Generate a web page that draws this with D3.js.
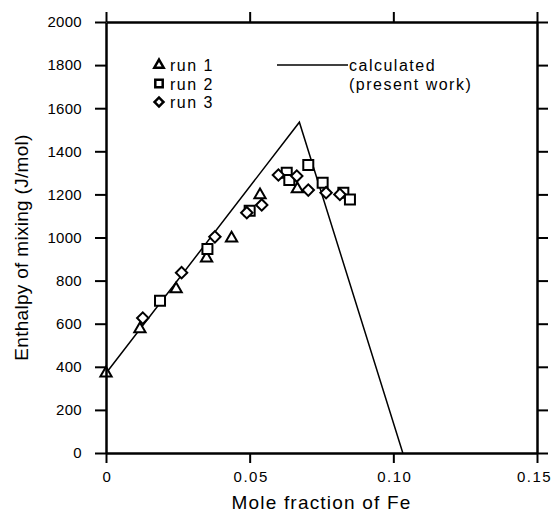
<!DOCTYPE html>
<html><head><meta charset="utf-8">
<script src="https://cdn.jsdelivr.net/npm/d3@7"></script>
<style>body{margin:0;background:#fff}svg{display:block}text{font-family:"Liberation Sans",Arial,sans-serif;fill:#000}</style>
</head><body><svg id="c" width="554" height="513"></svg>
<script>
const xTicks = [0, 0.05, 0.10, 0.15];
const xTickLabels = ["0", "0.05", "0.10", "0.15"];
const yTicks = [0, 200, 400, 600, 800, 1000, 1200, 1400, 1600, 1800, 2000];
const calcX = [0, 0.0673, 0.1033];
const calcY = [370, 1535, 0];
const run1X = [0, 0.0118, 0.0244, 0.0350, 0.0437, 0.0536, 0.0666];
const run1Y = [370, 575, 761, 904, 996, 1197, 1225];
const run2X = [0.0188, 0.0353, 0.0500, 0.0629, 0.0638, 0.0704, 0.0754, 0.0826, 0.0849];
const run2Y = [707, 947, 1124, 1301, 1267, 1336, 1254, 1208, 1176];
const run3X = [0.0128, 0.0263, 0.0379, 0.0490, 0.0542, 0.0600, 0.0664, 0.0704, 0.0766, 0.0814];
const run3Y = [626, 837, 1003, 1115, 1151, 1290, 1285, 1220, 1208, 1200];
const legendRuns = ["run 1", "run 2", "run 3"];
const legendCalc = ["calculated", "(present work)"];

const svg = d3.select("#c");
const L = 106, T = 22, W = 431, H = 431;
const x = d3.scaleLinear().domain([0, 0.15]).range([L, L + W]);
const y = d3.scaleLinear().domain([0, 2000]).range([T + H, T]);

// calculated line
const calc = calcX.map((d, i) => [d, calcY[i]]);
svg.append("path").datum(calc)
  .attr("d", d3.line().x(d => x(d[0])).y(d => y(d[1])))
  .attr("fill", "none").attr("stroke", "#000").attr("stroke-width", 1.5);

const sym = {
  tri: d3.symbol().type(d3.symbolTriangle).size(55),
  sq: d3.symbol().type(d3.symbolSquare).size(100),
  dia: d3.symbol().type(d3.symbolSquare).size(65)
};
function pts(xs, ys, s, rot) {
  const data = xs.map((d, i) => [d, ys[i]]);
  svg.append("g").selectAll("path").data(data).join("path")
    .attr("d", sym[s]())
    .attr("transform", d => `translate(${x(d[0])},${y(d[1])}) rotate(${rot})`)
    .attr("fill", "#fff").attr("stroke", "#000").attr("stroke-width", 2);
}
pts(run1X, run1Y, "tri", 0);
pts(run2X, run2Y, "sq", 0);
pts(run3X, run3Y, "dia", 45);

const g = svg.append("g");
function styleAxis(a, ls) {
  a.select(".domain").attr("stroke-width", 2.5).attr("stroke", "#000");
  a.selectAll(".tick line").attr("stroke-width", 2).attr("stroke", "#000");
  a.selectAll("text").style("font-size", "15px").style("letter-spacing", ls + "px").attr("fill", "#000");
}
const bx = g.append("g").attr("transform", `translate(0,${T + H})`)
  .call(d3.axisBottom(x).tickValues(xTicks).tickFormat((d, i) => xTickLabels[i]).tickSize(10).tickSizeOuter(0).tickPadding(8));
styleAxis(bx, 1.5);
bx.selectAll("text").attr("dx", (d, i) => i === xTicks.length - 1 ? "-3px" : "1px");
const tx = g.append("g").attr("transform", `translate(0,${T})`)
  .call(d3.axisTop(x).tickValues(xTicks).tickFormat("").tickSize(10).tickSizeOuter(0));
styleAxis(tx, 0);
const ly = g.append("g").attr("transform", `translate(${L},0)`)
  .call(d3.axisLeft(y).tickValues(yTicks).tickFormat(d3.format("d")).tickSize(11).tickSizeOuter(0).tickPadding(13));
styleAxis(ly, 0.3);
const ry = g.append("g").attr("transform", `translate(${L + W},0)`)
  .call(d3.axisRight(y).tickValues(yTicks).tickFormat("").tickSize(11).tickSizeOuter(0));
styleAxis(ry, 0);

svg.append("text").attr("x", L + W / 2).attr("y", 509).attr("text-anchor", "middle")
  .style("font-size", "19px").style("letter-spacing", "1.2px").text("Mole fraction of Fe");
svg.append("text").attr("transform", `translate(28,${T + H / 2 + 10}) rotate(-90)`).attr("text-anchor", "middle")
  .style("font-size", "19px").style("letter-spacing", "0.3px").text("Enthalpy of mixing (J/mol)");

// legend
const lg = svg.append("g");
legendRuns.forEach((t, i) => {
  const yy = 65 + i * 18.5;
  lg.append("path")
    .attr("d", i === 0 ? d3.symbol().type(d3.symbolTriangle).size(38)() : d3.symbol().type(d3.symbolSquare).size(i === 2 ? 40 : 55)())
    .attr("transform", `translate(159,${yy}) rotate(${i === 2 ? 45 : 0})`)
    .attr("fill", "#fff").attr("stroke", "#000").attr("stroke-width", 2.5);
  lg.append("text").attr("x", 170).attr("y", yy + 6).style("font-size", "16px").style("letter-spacing", "1.5px").text(t);
});
lg.append("line").attr("x1", 277).attr("x2", 348).attr("y1", 65).attr("y2", 65)
  .attr("stroke", "#000").attr("stroke-width", 1.5);
legendCalc.forEach((t, i) => {
  lg.append("text").attr("x", 349).attr("y", 71 + i * 18.5).style("font-size", "16px").style("letter-spacing", "1.5px").text(t);
});
</script></body></html>
